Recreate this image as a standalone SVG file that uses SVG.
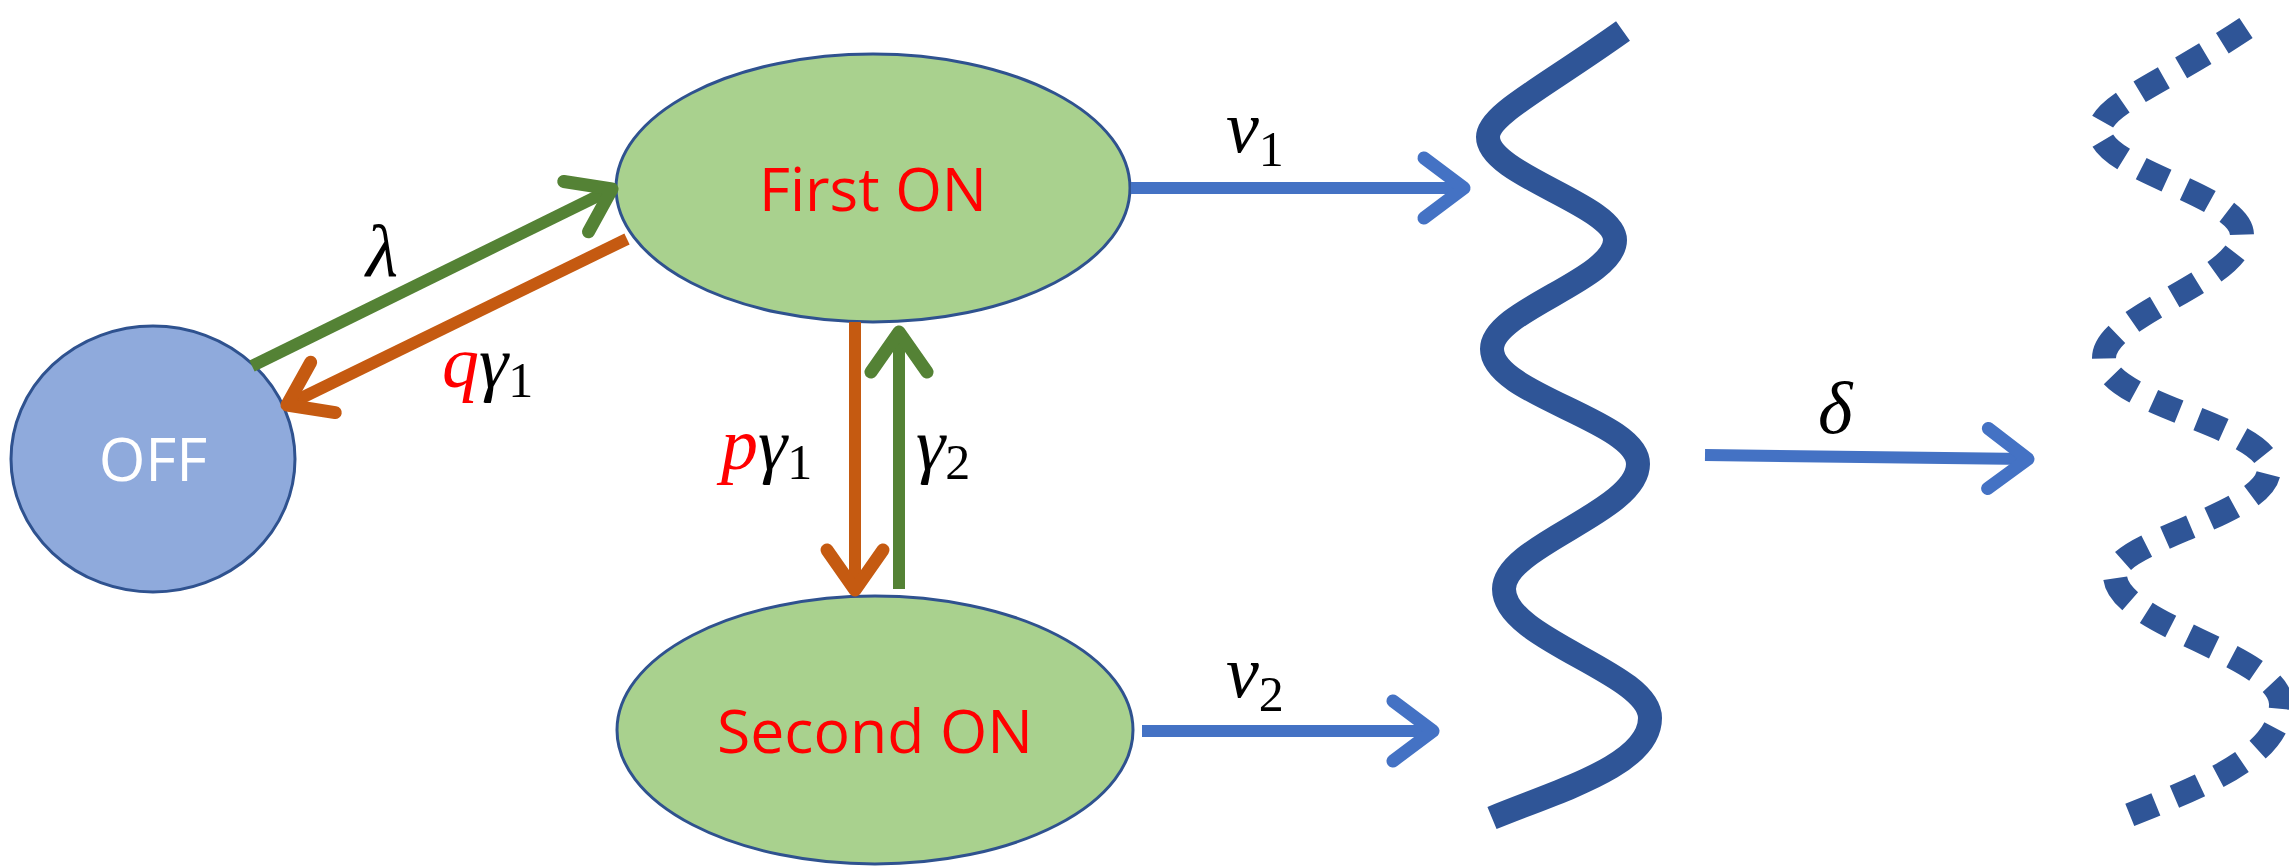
<svg xmlns="http://www.w3.org/2000/svg" width="2289" height="867" viewBox="0 0 2289 867">
<style>
.node{fill:#A9D18E;stroke:#2F528F;stroke-width:3}
.lbl{font-family:"Open Sans","Liberation Sans",sans-serif;font-size:60px;fill:#FF0000;text-anchor:middle}
.m{font-family:"Liberation Serif",serif;font-style:italic;font-size:74px;fill:#000}
.s{font-family:"Liberation Serif",serif;font-style:normal;font-size:50px}
.r{fill:#FF0000}
.a{fill:none;stroke-width:12}
</style>
<defs>
<marker id="hb" markerUnits="userSpaceOnUse" orient="auto" refX="0" refY="0" overflow="visible"><path d="M-40,-30 L0,0 L-40,30" fill="none" stroke="#4472C4" stroke-width="13" stroke-linecap="round" stroke-linejoin="round"/></marker>
<marker id="hg" markerUnits="userSpaceOnUse" orient="auto" refX="0" refY="0" overflow="visible"><path d="M-40,-28 L0,0 L-40,28" fill="none" stroke="#548235" stroke-width="13" stroke-linecap="round" stroke-linejoin="round"/></marker>
<marker id="ho" markerUnits="userSpaceOnUse" orient="auto" refX="0" refY="0" overflow="visible"><path d="M-40,-28 L0,0 L-40,28" fill="none" stroke="#C55A11" stroke-width="13" stroke-linecap="round" stroke-linejoin="round"/></marker>
</defs>
<g id="off"><ellipse cx="153" cy="459" rx="142" ry="133" fill="#8FAADC" stroke="#2F528F" stroke-width="3"/><text x="153" y="481" class="lbl" style="fill:#fff">OFF</text></g>
<g id="first"><ellipse class="node" cx="873" cy="188" rx="257" ry="134"/><text x="873" y="211" class="lbl" textLength="228" lengthAdjust="spacingAndGlyphs">First ON</text></g>
<g id="second"><ellipse class="node" cx="875" cy="730" rx="258" ry="134"/><text x="875" y="753" class="lbl" textLength="316" lengthAdjust="spacingAndGlyphs">Second ON</text></g>
<g id="connectors">
<line class="a" x1="252" y1="366" x2="612" y2="189" stroke="#548235" marker-end="url(#hg)"/>
<line class="a" x1="627" y1="239" x2="287" y2="405" stroke="#C55A11" marker-end="url(#ho)"/>
<line class="a" x1="855" y1="322" x2="855" y2="590" stroke="#C55A11" marker-end="url(#ho)"/>
<line class="a" x1="899" y1="589" x2="899" y2="332" stroke="#548235" marker-end="url(#hg)"/>
<line class="a" x1="1131" y1="188" x2="1464" y2="188" stroke="#4472C4" marker-end="url(#hb)"/>
<line class="a" x1="1142" y1="731" x2="1433" y2="731" stroke="#4472C4" marker-end="url(#hb)"/>
<line class="a" x1="1705" y1="455" x2="2028" y2="459" stroke="#4472C4" marker-end="url(#hb)"/>
</g>
<g id="labels">
<text class="m" x="366" y="276">λ</text>
<text class="m" x="442" y="387"><tspan class="r">q</tspan>γ<tspan class="s" dy="10">1</tspan></text>
<text class="m" x="721" y="469"><tspan class="r">p</tspan>γ<tspan class="s" dy="10">1</tspan></text>
<text class="m" x="916" y="469">γ<tspan class="s" dy="10">2</tspan></text>
<text class="m" x="1226" y="152">ν<tspan class="s" dy="14">1</tspan></text>
<text class="m" x="1226" y="697">ν<tspan class="s" dy="14">2</tspan></text>
<text class="m" x="1818" y="433">δ</text>
</g>
<g id="waves" fill="none" stroke="#2F5597" stroke-width="24">
<path d="M1623,31 C1540,90 1488,115 1488,137 C1488,175 1615,205 1615,240 C1615,280 1492,310 1492,349 C1492,395 1638,420 1638,464 C1638,512 1504,545 1504,589 C1504,640 1650,672 1650,718 C1650,765 1560,790 1492,818"/>
<path d="M2246,28 C2160,85 2100,105 2100,131 C2100,170 2242,195 2242,235 C2242,280 2104,315 2104,358 C2104,405 2269,425 2269,469 C2269,515 2115,540 2115,575 C2115,625 2281,655 2281,704 C2281,760 2190,790 2115,821" stroke-dasharray="28 20"/>
</g>
</svg>
